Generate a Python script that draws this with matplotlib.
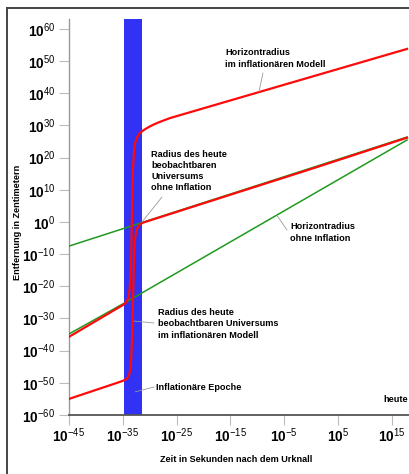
import numpy as np
import matplotlib
matplotlib.use("Agg")
import matplotlib.pyplot as plt
from matplotlib.lines import Line2D

FONT = ['Liberation Sans Narrow', 'Liberation Sans', 'DejaVu Sans']
plt.rcParams['font.family'] = FONT
plt.rcParams['mathtext.fontset'] = 'custom'
plt.rcParams['mathtext.bf'] = 'Liberation Sans:bold'
plt.rcParams['mathtext.rm'] = 'Liberation Sans'
plt.rcParams['mathtext.it'] = 'Liberation Sans:italic'

# ---- data (log10 exponents) ----
x_ticks_exp = [-45, -35, -25, -15, -5, 5, 15]
y_ticks_exp = [60, 50, 40, 30, 20, 10, 0, -10, -20, -30, -40, -50, -60]

# Horizontradius ohne Inflation (green, lower)
hor_std_t = [-45.0, -34.5, 17.8]
hor_std_r = [-34.8, -25.0, 25.5]

# Radius des heute beobachtbaren Universums ohne Inflation (green, upper)
obs_std_t = [-45.0, 17.8]
obs_std_r = [-7.5, 26.4]

# Radius des heute beobachtbaren Universums im inflationaeren Modell (red, lower)
obs_inf_t = [-45.0, -35.53, -34.6, -34.2, -33.85, -33.6, -33.45, -33.30, -33.11,
             -32.93, -32.80, -32.60, -32.30, -31.90, -31.40, -30.5, 0.0, 17.8]
obs_inf_r = [-55.0, -49.7, -49.1, -48.6, -47.6, -45.8, -42.5, -36.7, -24.2,
             -11.8, -6.5, -3.6, -1.9, -0.9, -0.3, 0.2, 16.5, 26.2]

# Horizontradius im inflationaeren Modell (red, upper)
hor_inf_t = [-45.0, -34.97, -34.41, -34.04, -33.75, -33.55, -33.45, -33.35,
             -33.25, -33.11, -32.93, -32.70, -32.40, -32.00, -31.50, -30.90,
             -30.20, -29.40, -28.30, -26.24, -2.09, 17.8]
hor_inf_r = [-35.7, -25.8, -25.0, -23.8, -21.0, -16.5, -10.5, -2.0,
             8.0, 17.0, 21.8, 24.6, 26.2, 27.3, 28.1, 28.8,
             29.5, 30.2, 31.0, 32.3, 44.1, 53.8]

# Inflationaere Epoche (band)
band_exp = [-34.8, -31.5]

W, H = 409, 474
fig = plt.figure(figsize=(W / 100, H / 100), dpi=100)
ax = fig.add_axes([69 / W, 1 - 415 / H, 1 - 69 / W, (415 - 19) / H])


def p10(a):
    return 10.0 ** np.array(a, dtype=float)


ax.set_xscale('log')
ax.set_yscale('log')
ax.set_xlim(1e-45, 10 ** 18.16)
ax.set_ylim(1e-60, 10 ** 63.1)

ax.axvspan(10 ** band_exp[0], 10 ** band_exp[1], color='#3232f4', zorder=1, lw=0)

green = '#1f9a1f'
red = '#ff0a0a'
ax.plot(p10(hor_std_t), p10(hor_std_r), color=green, lw=1.1, zorder=3)
ax.plot(p10(obs_std_t), p10(obs_std_r), color=green, lw=1.1, zorder=3)
ax.plot(p10(obs_inf_t), p10(obs_inf_r), color=red, lw=1.6, zorder=4,
        solid_joinstyle='round')
ax.plot(p10(hor_inf_t), p10(hor_inf_r), color=red, lw=1.6, zorder=4,
        solid_joinstyle='round')

ax.set_xticks(p10(x_ticks_exp))
ax.set_xticklabels([r'$\mathbf{10}^{%d}$' % e for e in x_ticks_exp])
ax.set_yticks(p10(y_ticks_exp))
ax.set_yticklabels([r'$\mathbf{10}^{%d}$' % e for e in y_ticks_exp])
ax.minorticks_off()
ax.tick_params(axis='both', length=7, width=0.8, color='#bbbbbb',
               labelsize=9.8, pad=3)
ax.tick_params(axis='x', pad=1.5)
for s in ['top', 'right']:
    ax.spines[s].set_visible(False)
ax.spines['left'].set_color('#999999')
ax.spines['left'].set_linewidth(1.0)
ax.spines['bottom'].set_color('#555555')
ax.spines['bottom'].set_linewidth(1.3)
ax.patch.set_alpha(0)

# outer frame
fig.add_artist(Line2D([7 / W, 7 / W], [0, 1 - 8 / H], color='#444444', lw=1.4))
fig.add_artist(Line2D([7 / W, 1], [1 - 8 / H, 1 - 8 / H], color='#444444', lw=1.4))

TF = dict(fontsize=6.6, fontweight='bold', family=FONT, color='black')


def fx(px):
    return px / W


def fy(py):
    return 1 - py / H


def label(txt, x, y, ha='left'):
    fig.text(fx(x), fy(y), txt, ha=ha, va='center', linespacing=1.3, **TF)


def leader(xe, ye, px, py):
    ax.annotate('', xy=(10 ** xe, 10 ** ye), xycoords='data',
                xytext=(fx(px), fy(py)), textcoords='figure fraction',
                arrowprops=dict(arrowstyle='-', color='#999999', lw=0.6,
                                shrinkA=0, shrinkB=0), zorder=5)


label('Horizontradius\nim inflationären Modell', 225, 58.5)
leader(-9.70, 40.6, 263, 73)

label('Radius des heute\nbeobachtbaren\nUniversums\nohne Inflation', 151, 171)
leader(-31.44, 0.0, 162, 197)

label('Horizontradius\nohne Inflation', 290, 232.5)
leader(-6.36, 2.0, 287, 230)

label('Radius des heute\nbeobachtbaren Universums\nim inflationären Modell', 158, 324)
leader(-32.93, -30.8, 154, 323)

label('Inflationäre Epoche', 156, 387)
leader(-32.7, -52.8, 154, 387)

label('heute', 408, 399, ha='right')

fig.text(fx(236), fy(459), 'Zeit in Sekunden nach dem Urknall', ha='center',
         va='center', **TF)
fig.text(fx(18), fy(222), 'Entfernung in Zentimetern', ha='center', va='center',
         rotation=90, **TF)

fig.savefig('out.png', dpi=100)
